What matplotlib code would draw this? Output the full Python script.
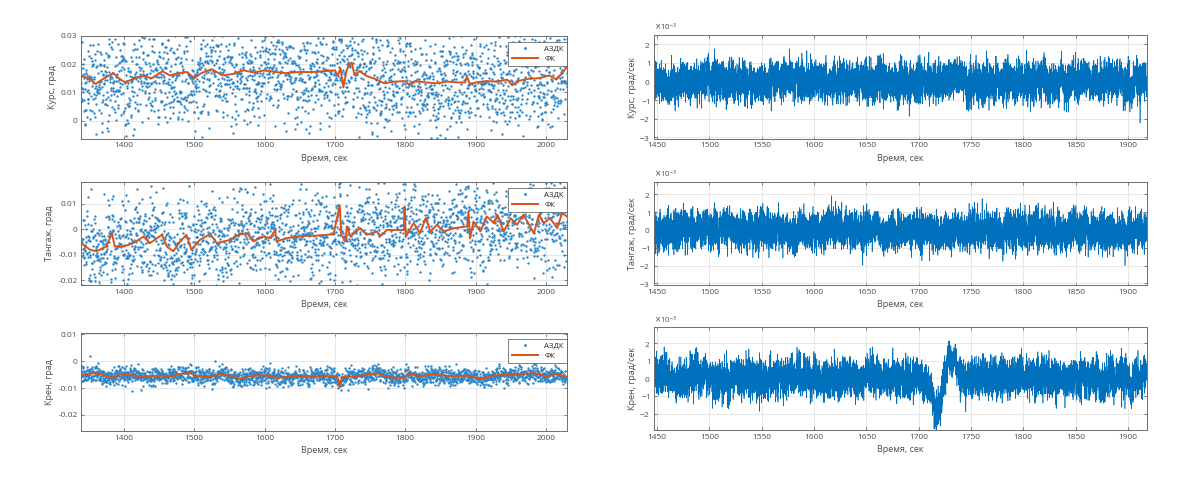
import numpy as np
import matplotlib
matplotlib.use('Agg')
import matplotlib.pyplot as plt
from matplotlib.ticker import FuncFormatter

plt.rcParams['font.family'] = ['Open Sans', 'DejaVu Sans']
plt.rcParams['axes.unicode_minus'] = False

# --- ФК (filter) traces: time [s], angle [deg]
kurs_fk_t = [1339, 1350, 1360, 1372, 1385, 1395, 1402, 1415, 1425, 1440, 1455, 1465, 1478, 1490,
             1500, 1510, 1525, 1540, 1555, 1570, 1585, 1600, 1615, 1630, 1650, 1670, 1690, 1700,
             1704, 1708, 1712, 1716, 1720, 1724, 1728, 1735, 1745, 1760, 1770, 1785, 1800, 1805,
             1815, 1830, 1845, 1860, 1875, 1885, 1888, 1892, 1900, 1915, 1930, 1945, 1952, 1960,
             1975, 1990, 2005, 2015, 2022, 2030]
kurs_fk_v = [0.0158, 0.0150, 0.0130, 0.0150, 0.0168, 0.0145, 0.0135, 0.0150, 0.0158, 0.0150,
             0.0175, 0.0160, 0.0168, 0.0172, 0.0150, 0.0168, 0.0182, 0.0160, 0.0165, 0.0178,
             0.0170, 0.0178, 0.0172, 0.0168, 0.0172, 0.0172, 0.0176, 0.0178, 0.0160, 0.0185,
             0.0117, 0.0170, 0.0200, 0.0205, 0.0160, 0.0175, 0.0158, 0.0145, 0.0132, 0.0138,
             0.0140, 0.0128, 0.0140, 0.0135, 0.0132, 0.0138, 0.0135, 0.0135, 0.0155, 0.0128,
             0.0135, 0.0140, 0.0138, 0.0145, 0.0125, 0.0140, 0.0148, 0.0150, 0.0160, 0.0145,
             0.0165, 0.0190]

tang_fk_t = [1339, 1352, 1361, 1375, 1383, 1387, 1400, 1413, 1428, 1437, 1454, 1461, 1470, 1480,
             1489, 1496, 1508, 1523, 1532, 1551, 1563, 1575, 1584, 1598, 1608, 1615, 1617, 1632,
             1645, 1660, 1670, 1698, 1707, 1709, 1715, 1717, 1722, 1736, 1745, 1760, 1764, 1774,
             1788, 1798, 1799, 1801, 1812, 1821, 1829, 1836, 1845, 1855, 1869, 1888, 1890, 1892,
             1897, 1907, 1916, 1926, 1931, 1940, 1950, 1959, 1968, 1983, 1990, 1997, 2006, 2016,
             2023, 2030]
tang_fk_v = [-0.0055, -0.0081, -0.0087, -0.0068, -0.0016, -0.0068, -0.0068, -0.0055, -0.0029,
             -0.0055, -0.0022, -0.0068, -0.0087, -0.0048, -0.0022, -0.0081, -0.0042, -0.0019,
             -0.0055, -0.0042, -0.0022, -0.0016, -0.0048, -0.0029, -0.0035, -0.0003, -0.0048,
             -0.0035, -0.0030, -0.0026, -0.0026, -0.0020, 0.0093, -0.0022, -0.0049, 0.0011,
             -0.0029, 0.0004, -0.0022, -0.0009, -0.0029, -0.0003, -0.0003, -0.0003, 0.0089,
             -0.0029, 0.0024, -0.0016, 0.0043, -0.0009, 0.0017, -0.0009, 0.0004, 0.0011, 0.0070,
             -0.0036, 0.0030, -0.0009, 0.0050, 0.0024, 0.0057, -0.0009, 0.0043, 0.0017, 0.0057,
             -0.0016, 0.0057, 0.0024, 0.0043, 0.0004, 0.0063, 0.0050]

kren_fk_t = [1339, 1361, 1383, 1395, 1414, 1428, 1447, 1466, 1480, 1494, 1504, 1518, 1537, 1556,
             1565, 1584, 1603, 1618, 1637, 1670, 1703, 1707, 1710, 1741, 1760, 1774, 1798, 1805,
             1821, 1840, 1869, 1888, 1907, 1926, 1954, 1983, 2002, 2016, 2030]
kren_fk_v = [-0.0049, -0.0044, -0.0062, -0.0049, -0.0053, -0.0059, -0.0053, -0.0057, -0.0047,
             -0.0044, -0.0057, -0.0059, -0.0047, -0.0057, -0.0065, -0.0053, -0.0053, -0.0062,
             -0.0056, -0.0057, -0.0057, -0.0096, -0.0059, -0.0053, -0.0044, -0.0059, -0.0062,
             -0.0044, -0.0057, -0.0049, -0.0057, -0.0053, -0.0065, -0.0053, -0.0049, -0.0044,
             -0.0056, -0.0047, -0.0059]

# scatter spread of the АЗДК points around the ФК trace, deg
kurs_spread = 0.0090
tang_spread = 0.0085
kren_spread = 0.0016

# --- angular rate panels: noise level and the roll disturbance near 1720 s, deg/s
rate_noise = 0.50e-3
kren_rate_t = [1447, 1700, 1708, 1713, 1717, 1721, 1725, 1729, 1733, 1738, 1745, 1918]
kren_rate_v = [0, 0, -0.1e-3, -1.0e-3, -1.7e-3, -1.1e-3, 0.2e-3, 1.3e-3, 0.9e-3, 0.2e-3, 0, 0]

left_ylabels = ['Курс, град', 'Тангаж, град', 'Крен, град']
right_ylabels = ['Курс, град/сек', 'Тангаж, град/сек', 'Крен, град/сек']
left_ylims = [(-0.0065, 0.03), (-0.022, 0.0185), (-0.026, 0.0105)]
left_yticks = [[0, 0.01, 0.02, 0.03], [-0.02, -0.01, 0, 0.01], [-0.02, -0.01, 0, 0.01]]
right_ylims = [(-3.1e-3, 2.5e-3), (-3.1e-3, 2.7e-3), (-2.95e-3, 2.9e-3)]
right_yticks = [[-3e-3, -2e-3, -1e-3, 0, 1e-3, 2e-3], [-3e-3, -2e-3, -1e-3, 0, 1e-3, 2e-3],
                [-2e-3, -1e-3, 0, 1e-3, 2e-3]]

blue = '#0072BD'
orange = '#D95319'
txt = '#4d4d4d'

fig = plt.figure(figsize=(12, 4.8), dpi=100)
left_pos = [[0.0675, 0.7104, 0.405, 0.215], [0.0675, 0.406, 0.405, 0.2146], [0.0675, 0.102, 0.405, 0.204]]
right_pos = [[0.545, 0.7104, 0.4106, 0.2167], [0.545, 0.406, 0.4106, 0.215], [0.545, 0.1035, 0.4106, 0.2146]]


def style(ax):
    ax.grid(True, color='#e3e3e3', lw=0.6)
    ax.set_axisbelow(True)
    ax.tick_params(direction='in', length=2, width=0.5, labelsize=6, colors=txt,
                   top=True, right=True, pad=2.5)
    for s in ax.spines.values():
        s.set_color('#6e6e6e')
        s.set_linewidth(0.7)
    ax.set_xlabel('Время, сек', fontsize=6.5, color=txt, labelpad=3)


rng = np.random.default_rng(7)
fk_all = [(kurs_fk_t, kurs_fk_v, kurs_spread), (tang_fk_t, tang_fk_v, tang_spread),
          (kren_fk_t, kren_fk_v, kren_spread)]

for i, (fk_t, fk_v, spread) in enumerate(fk_all):
    ax = fig.add_axes(left_pos[i])
    t = np.arange(1339, 2031, 0.3)
    pts = np.interp(t, fk_t, fk_v) + rng.normal(0, spread, t.size)
    ax.plot(t, pts, ls='none', marker='o', ms=1.7, mew=0, color='#2a86c8', label='АЗДК')
    ax.plot(fk_t, fk_v, color=orange, lw=1.4, label='ФК')
    ax.set_xlim(1339, 2030)
    ax.set_ylim(*left_ylims[i])
    ax.set_xticks(range(1400, 2001, 100))
    ax.set_yticks(left_yticks[i])
    ax.yaxis.set_major_formatter(FuncFormatter(lambda v, p: '{:g}'.format(round(v, 4))))
    ax.set_ylabel(left_ylabels[i], fontsize=6.5, color=txt, labelpad=3)
    style(ax)
    leg = ax.legend(loc='upper right', bbox_to_anchor=(1.0, 0.94), borderaxespad=0, fontsize=5.6,
                    fancybox=False, edgecolor='#4d4d4d', handlelength=3.4, markerscale=1.2,
                    borderpad=0.4, labelspacing=0.35, framealpha=1)
    leg.get_frame().set_linewidth(0.5)
    for tx in leg.get_texts():
        tx.set_color('#262626')

for i in range(3):
    ax = fig.add_axes(right_pos[i])
    t = np.arange(1447, 1918, 0.05)
    slow = np.convolve(rng.normal(0, 1, t.size), np.ones(60) / 60, mode='same') * 1.2e-3
    v = rng.normal(0, rate_noise, t.size) + slow
    if i == 2:
        v = v + np.interp(t, kren_rate_t, kren_rate_v)
    ax.plot(t, v, color=blue, lw=0.45)
    ax.set_xlim(1447, 1918)
    ax.set_ylim(*right_ylims[i])
    ax.set_xticks(range(1450, 1901, 50))
    ax.set_yticks(right_yticks[i])
    ax.ticklabel_format(axis='y', style='sci', scilimits=(-3, -3), useMathText=True)
    ax.yaxis.get_offset_text().set_fontsize(5.5)
    ax.yaxis.get_offset_text().set_color(txt)
    ax.set_ylabel(right_ylabels[i], fontsize=6.5, color=txt, labelpad=2)
    style(ax)

fig.savefig('out.png', dpi=100)
